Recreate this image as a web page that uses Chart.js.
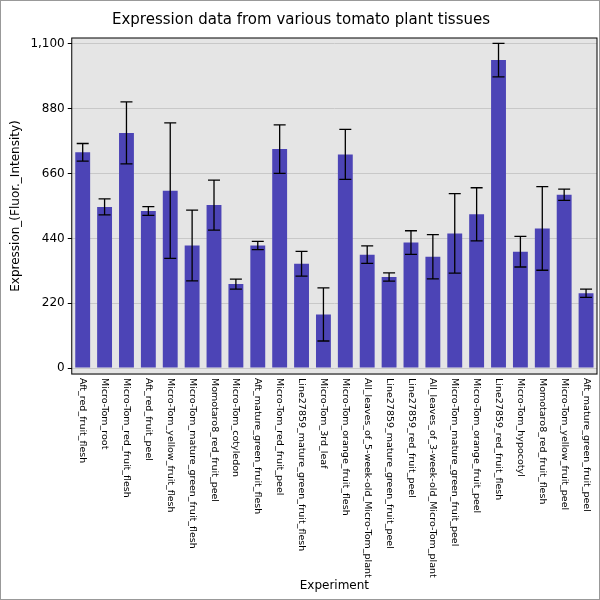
<!DOCTYPE html>
<html><head><script src="https://cdn.jsdelivr.net/npm/chart.js@4"></script>
<style>body{margin:0;background:#fff}#w{width:598px;height:598px;border:1px solid #999}</style></head>
<body><div id="w"><canvas id="c" width="598" height="598"></canvas></div>
<script>
var categories = ['Aft_red_fruit_flesh','Micro-Tom_root','Micro-Tom_red_fruit_flesh','Aft_red_fruit_peel','Micro-Tom_yellow_fruit_flesh','Micro-Tom_mature_green_fruit_flesh','Momotaro8_red_fruit_peel','Micro-Tom_cotyledon','Aft_mature_green_fruit_flesh','Micro-Tom_red_fruit_peel','Line27859_mature_green_fruit_flesh','Micro-Tom_3rd_leaf','Micro-Tom_orange_fruit_flesh','All_leaves_of_5-week-old_Micro-Tom_plant','Line27859_mature_green_fruit_peel','Line27859_red_fruit_peel','All_leaves_of_3-week-old_Micro-Tom_plant','Micro-Tom_mature_green_fruit_peel','Micro-Tom_orange_fruit_peel','Line27859_red_fruit_flesh','Micro-Tom_hypocotyl','Momotaro8_red_fruit_flesh','Micro-Tom_yellow_fruit_peel','Aft_mature_green_fruit_peel'];
var values = [732,547,798,533,602,416,553,285,416,743,354,182,725,385,309,426,378,457,522,1045,395,474,588,254];
var errors = [30,27,105,15,230,120,85,17,14,82,42,90,85,30,14,40,75,135,90,57,52,142,19,14];
var yTicks = [0,220,440,660,880,1100];

var errPlugin = {
  id: 'err',
  beforeDraw: function (chart) {
    var a = chart.chartArea, ctx = chart.ctx;
    ctx.save(); ctx.fillStyle = '#e5e5e5'; ctx.fillRect(a.left, a.top, a.right - a.left, a.bottom - a.top); ctx.restore();
  },
  afterDatasetsDraw: function (chart) {
    var ctx = chart.ctx, meta = chart.getDatasetMeta(0), y = chart.scales.y;
    ctx.save(); ctx.strokeStyle = '#000'; ctx.lineWidth = 1.3;
    meta.data.forEach(function (bar, i) {
      var t = y.getPixelForValue(values[i] + errors[i]), b = y.getPixelForValue(values[i] - errors[i]);
      ctx.beginPath();
      ctx.moveTo(bar.x, t); ctx.lineTo(bar.x, b);
      ctx.moveTo(bar.x - 6, t); ctx.lineTo(bar.x + 6, t);
      ctx.moveTo(bar.x - 6, b); ctx.lineTo(bar.x + 6, b);
      ctx.stroke();
    });
    ctx.restore();
  },
  afterDraw: function (chart) {
    var a = chart.chartArea, ctx = chart.ctx, meta = chart.getDatasetMeta(0);
    ctx.save(); ctx.strokeStyle = '#000'; ctx.lineWidth = 1; ctx.strokeRect(a.left, a.top, a.right - a.left, a.bottom - a.top);
    ctx.fillStyle = '#000'; ctx.font = '9.5px "DejaVu Sans"'; ctx.textAlign = 'left'; ctx.textBaseline = 'middle';
    meta.data.forEach(function (bar, i) {
      ctx.save(); ctx.translate(bar.x, a.bottom + 4); ctx.rotate(Math.PI / 2);
      ctx.fillText(categories[i], 0, 0); ctx.restore();
    });
    ctx.font = '12px "DejaVu Sans"'; ctx.textAlign = 'center';
    ctx.fillText('Experiment', (a.left + a.right) / 2, 585);
    ctx.restore();
  }
};

new Chart(document.getElementById('c'), {
  type: 'bar',
  data: { labels: categories, datasets: [{ data: values, backgroundColor: '#4c44b6', categoryPercentage: 1, barPercentage: 0.68 }] },
  options: {
    responsive: false, animation: false, devicePixelRatio: 1,
    layout: { padding: { right: 2, left: 4 } },
    plugins: {
      legend: { display: false },
      title: { display: true, text: 'Expression data from various tomato plant tissues', color: '#000', font: { family: 'DejaVu Sans', size: 15, weight: 'normal' }, padding: { top: 10, bottom: 9 } }
    },
    scales: {
      x: {
        grid: { display: false },
        ticks: { display: false },
        afterFit: function (s) { s.height = 225; }
      },
      y: {
        min: -20, max: 1120,
        afterBuildTicks: function (s) { s.ticks = yTicks.map(function (v) { return { value: v }; }); },
        grid: { color: '#c8c8c8', drawTicks: true, tickColor: '#000', tickLength: 4 },
        border: { display: false },
        ticks: { color: '#000', font: { family: 'DejaVu Sans', size: 12 } },
        title: { display: true, text: 'Expression_(Fluor._Intensity)', color: '#000', font: { family: 'DejaVu Sans', size: 12 } }
      }
    }
  },
  plugins: [errPlugin]
});
</script>
</body></html>
